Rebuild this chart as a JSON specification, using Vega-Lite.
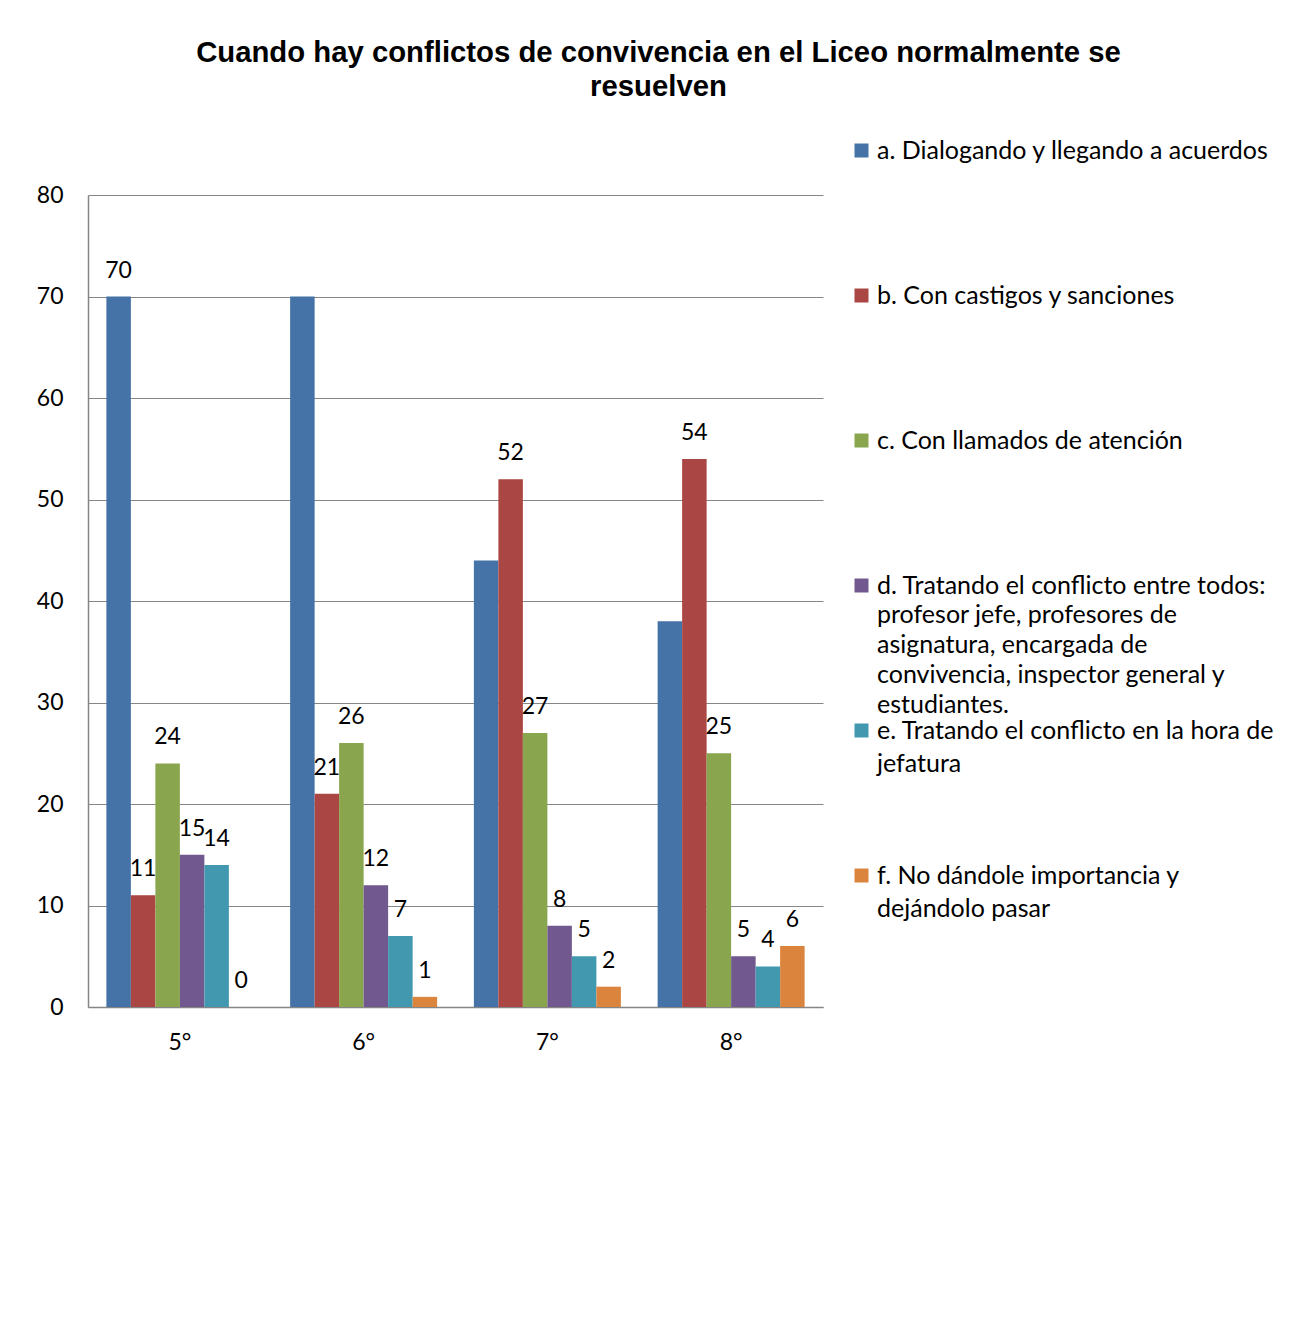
{
  "$schema": "https://vega.github.io/schema/vega-lite/v6.json",
  "autosize": "none",
  "width": 735,
  "height": 812,
  "padding": {"left": 88, "top": 195, "right": 479, "bottom": 326},
  "background": "white",
  "title": {
    "text": ["Cuando hay conflictos de convivencia en el Liceo normalmente se", "resuelven"],
    "anchor": "middle",
    "frame": "group",
    "dx": 203,
    "offset": 7,
    "baseline": "bottom",
    "font": "Liberation Sans",
    "fontSize": 29.3,
    "fontWeight": "bold",
    "color": "black",
    "lineHeight": 34
  },
  "data": {
    "values": [
      {"grado": "5°", "serie": "a. Dialogando y llegando a acuerdos", "valor": 70},
      {"grado": "5°", "serie": "b. Con castigos y sanciones", "valor": 11},
      {"grado": "5°", "serie": "c. Con llamados de atención", "valor": 24},
      {"grado": "5°", "serie": "d. Tratando el conflicto entre todos: profesor jefe, profesores de asignatura, encargada de convivencia, inspector general y estudiantes.", "valor": 15},
      {"grado": "5°", "serie": "e. Tratando el conflicto en la hora de jefatura", "valor": 14},
      {"grado": "5°", "serie": "f. No dándole importancia y dejándolo pasar", "valor": 0},
      {"grado": "6°", "serie": "a. Dialogando y llegando a acuerdos", "valor": 70},
      {"grado": "6°", "serie": "b. Con castigos y sanciones", "valor": 21},
      {"grado": "6°", "serie": "c. Con llamados de atención", "valor": 26},
      {"grado": "6°", "serie": "d. Tratando el conflicto entre todos: profesor jefe, profesores de asignatura, encargada de convivencia, inspector general y estudiantes.", "valor": 12},
      {"grado": "6°", "serie": "e. Tratando el conflicto en la hora de jefatura", "valor": 7},
      {"grado": "6°", "serie": "f. No dándole importancia y dejándolo pasar", "valor": 1},
      {"grado": "7°", "serie": "a. Dialogando y llegando a acuerdos", "valor": 44},
      {"grado": "7°", "serie": "b. Con castigos y sanciones", "valor": 52},
      {"grado": "7°", "serie": "c. Con llamados de atención", "valor": 27},
      {"grado": "7°", "serie": "d. Tratando el conflicto entre todos: profesor jefe, profesores de asignatura, encargada de convivencia, inspector general y estudiantes.", "valor": 8},
      {"grado": "7°", "serie": "e. Tratando el conflicto en la hora de jefatura", "valor": 5},
      {"grado": "7°", "serie": "f. No dándole importancia y dejándolo pasar", "valor": 2},
      {"grado": "8°", "serie": "a. Dialogando y llegando a acuerdos", "valor": 38},
      {"grado": "8°", "serie": "b. Con castigos y sanciones", "valor": 54},
      {"grado": "8°", "serie": "c. Con llamados de atención", "valor": 25},
      {"grado": "8°", "serie": "d. Tratando el conflicto entre todos: profesor jefe, profesores de asignatura, encargada de convivencia, inspector general y estudiantes.", "valor": 5},
      {"grado": "8°", "serie": "e. Tratando el conflicto en la hora de jefatura", "valor": 4},
      {"grado": "8°", "serie": "f. No dándole importancia y dejándolo pasar", "valor": 6}
    ]
  },
  "encoding": {
    "x": {
      "field": "grado",
      "type": "nominal",
      "sort": ["5°", "6°", "7°", "8°"],
      "scale": {"paddingInner": 0.2, "paddingOuter": 0.1},
      "axis": {
        "title": null,
        "labelAngle": 0,
        "ticks": false,
        "tickSize": 0,
        "labelPadding": 24,
        "labelFont": "Lato",
        "labelFontSize": 23,
        "labelColor": "black",
        "domainColor": "#868686",
        "domainWidth": 1.5
      }
    },
    "xOffset": {
      "field": "serie",
      "type": "nominal",
      "scale": {"paddingInner": 0, "paddingOuter": 0}
    },
    "y": {
      "field": "valor",
      "type": "quantitative",
      "scale": {"domain": [0, 80], "nice": false},
      "axis": {
        "title": null,
        "values": [0, 10, 20, 30, 40, 50, 60, 70, 80],
        "ticks": false,
        "tickSize": 0,
        "labelPadding": 25,
        "labelFont": "Lato",
        "labelFontSize": 23,
        "labelColor": "black",
        "grid": true,
        "gridColor": "#868686",
        "gridWidth": 1,
        "domainColor": "#868686",
        "domainWidth": 1.5
      }
    }
  },
  "layer": [
    {
      "mark": {"type": "bar"},
      "encoding": {
        "color": {
          "field": "serie",
          "type": "nominal",
          "scale": {"range": ["#4572A7", "#AA4643", "#89A54E", "#71588F", "#4198AF", "#DB843D"]},
          "legend": {
            "title": null,
            "orient": "none",
            "legendX": 761,
            "legendY": -57,
            "padding": 0,
            "symbolType": "square",
            "symbolSize": 196,
            "symbolStrokeWidth": 0,
            "labelFont": "Lato",
            "labelFontSize": 25,
            "labelColor": "black",
            "labelLimit": 600,
            "labelOffset": 3,
            "labelBaseline": "top",
            "gridAlign": "all",
            "rowPadding": 0,
            "labelExpr": "indexof(datum.label,'d.')==0 ? ['d. Tratando el conflicto entre todos:','profesor jefe, profesores de','asignatura, encargada de','convivencia, inspector general y','estudiantes.'] : indexof(datum.label,'e.')==0 ? ['e. Tratando el conflicto en la hora de','jefatura'] : indexof(datum.label,'f.')==0 ? ['f. No dándole importancia y','dejándolo pasar'] : datum.label",
            "encode": {
              "labels": {"update": {"dy": {"value": -12}, "lineHeight": {"signal": "indexof(datum.label,'d.')==0 ? 29.75 : 33"}}}
            }
          }
        }
      }
    },
    {
      "transform": [{"filter": "indexof(datum.serie,'a.') != 0 || datum.grado == '5°'"}],
      "mark": {"type": "text", "dy": -26, "baseline": "middle", "align": "center", "font": "Lato", "fontSize": 23, "color": "black"},
      "encoding": {"text": {"field": "valor", "type": "quantitative"}}
    }
  ],
  "config": {"view": {"stroke": null}}
}
